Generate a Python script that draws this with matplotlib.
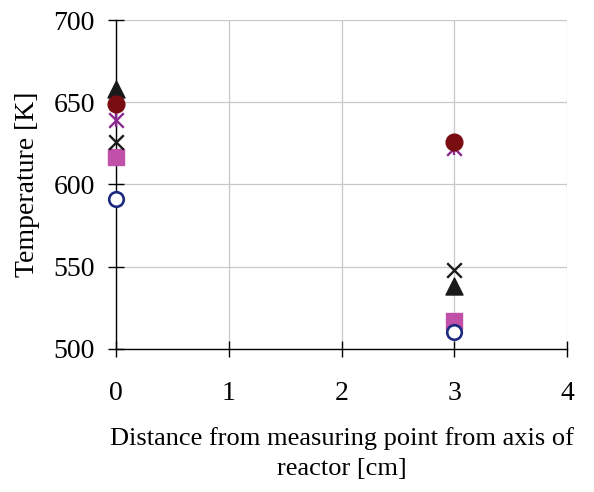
import matplotlib.pyplot as plt
import numpy as np

plt.rcParams['font.family'] = ['Liberation Serif', 'DejaVu Serif']

x_pos = [0, 3]
triangle = [658, 538]
dark_circle = [649, 626]
star = [639, 622]
cross = [626, 548]
square = [617, 517]
open_circle = [591, 510]

fig = plt.figure(figsize=(5.94, 4.92), dpi=100)
ax = fig.add_axes([0.195, 0.291, 0.76, 0.668])

ax.scatter(x_pos, triangle, marker='^', s=150, color='#1a1a1a', zorder=3, clip_on=False)
ax.scatter(x_pos, square, marker='s', s=120, color='#c050a8', zorder=3, clip_on=False)
ax.scatter(x_pos, cross, marker='x', s=110, color='#1a1a1a', linewidths=1.7, zorder=3, clip_on=False)
ax.scatter(x_pos, star, marker='x', s=110, color='#8a2a90', linewidths=1.7, zorder=3, clip_on=False)
ax.scatter(x_pos, star, marker='|', s=110, color='#8a2a90', linewidths=1.7, zorder=3, clip_on=False)
ax.scatter(x_pos, dark_circle, marker='o', s=145, color='#7a0d12', zorder=4, clip_on=False)
ax.scatter(x_pos, open_circle, marker='o', s=110, facecolors='white', edgecolors='#1c2a80',
           linewidths=1.9, zorder=3, clip_on=False)

ax.set_xlim(0, 4)
ax.set_ylim(500, 700)
ax.set_xticks([0, 1, 2, 3, 4])
ax.set_yticks([500, 550, 600, 650, 700])
ax.grid(True, color='#c8c8c8', linewidth=0.9)
ax.set_axisbelow(True)
for s in ['top', 'right']:
    ax.spines[s].set_visible(False)
for s in ['left', 'bottom']:
    ax.spines[s].set_color('black')
    ax.spines[s].set_linewidth(1.0)
ax.tick_params(direction='inout', length=12, width=1.0, labelsize=20)
ax.tick_params(axis='x', pad=17)
ax.tick_params(axis='y', pad=9)

ax.set_ylabel('Temperature [K]', fontsize=20, labelpad=10)
ax.set_xlabel('Distance from measuring point from axis of\nreactor [cm]', fontsize=19,
              labelpad=15, linespacing=1.5)

plt.savefig('out.png', dpi=100)
